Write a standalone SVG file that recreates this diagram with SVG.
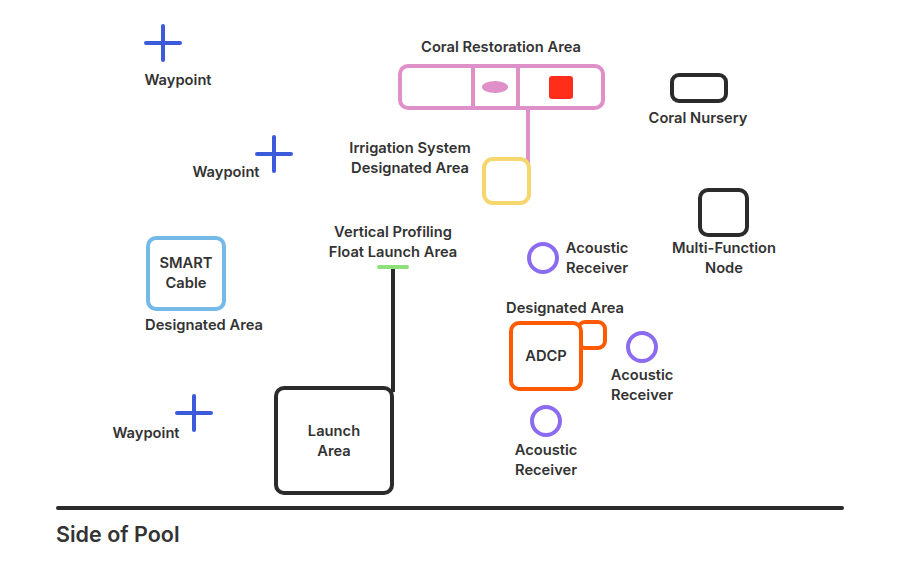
<svg xmlns="http://www.w3.org/2000/svg" width="900" height="562" viewBox="0 0 900 562">
<style>
text{font-family:Inter,"Liberation Sans",sans-serif;font-weight:600;font-size:14.7px;fill:#333;text-anchor:middle}
.wp{stroke:#3b5bdb;stroke-width:4;stroke-linecap:round;fill:none}
.ar{stroke:#8b6cf0;stroke-width:4;fill:#fff}
.blk{stroke:#2b2b2b;stroke-width:4;fill:#fff}
</style>
<rect width="900" height="562" fill="#fff"/>
<g id="connectors">
<line x1="528" y1="108" x2="528" y2="186" stroke="#e090c8" stroke-width="4"/>
<line x1="393" y1="268" x2="393" y2="392" stroke="#2b2b2b" stroke-width="4"/>
</g>
<g id="coral-restoration">
<text x="501" y="52">Coral Restoration Area</text>
<rect x="400" y="66" width="203" height="42" rx="8" fill="#fff" stroke="#e090c8" stroke-width="4"/>
<line x1="473" y1="66" x2="473" y2="108" stroke="#e090c8" stroke-width="4"/>
<line x1="518" y1="66" x2="518" y2="108" stroke="#e090c8" stroke-width="4"/>
<ellipse cx="495" cy="87" rx="13" ry="6" fill="#e090c8"/>
<rect x="549" y="76" width="24" height="23" rx="3" fill="#ff2d1a"/>
</g>
<g id="irrigation">
<text x="410" y="153">Irrigation System</text>
<text x="410" y="173">Designated Area</text>
<rect x="484" y="159" width="45" height="44" rx="9" fill="#fff" stroke="#f5d76e" stroke-width="4"/>
</g>
<g id="waypoint1">
<path class="wp" d="M163 26V60M146 43H180"/>
<text x="178" y="85">Waypoint</text>
</g>
<g id="waypoint2">
<path class="wp" d="M274 137V171M257 154H291"/>
<text x="226" y="177">Waypoint</text>
</g>
<g id="waypoint3">
<path class="wp" d="M194 396V430M177 413H211"/>
<text x="146" y="438">Waypoint</text>
</g>
<g id="coral-nursery">
<rect x="672" y="75" width="54" height="26" rx="7" class="blk"/>
<text x="698" y="123">Coral Nursery</text>
</g>
<g id="multi-function-node">
<rect x="700" y="190" width="47" height="45" rx="8" class="blk"/>
<text x="724" y="253">Multi-Function</text>
<text x="724" y="273">Node</text>
</g>
<g id="smart-cable">
<rect x="148" y="238" width="76" height="71" rx="8" fill="#fff" stroke="#74b9e8" stroke-width="4"/>
<text x="186" y="268">SMART</text>
<text x="186" y="288">Cable</text>
<text x="204" y="330">Designated Area</text>
</g>
<g id="float-launch">
<text x="393" y="237">Vertical Profiling</text>
<text x="393" y="257">Float Launch Area</text>
<line x1="379" y1="267" x2="407" y2="267" stroke="#8ee07a" stroke-width="4" stroke-linecap="round"/>
</g>
<g id="launch-area">
<rect x="276" y="388" width="116" height="105" rx="8" class="blk"/>
<text x="334" y="436">Launch</text>
<text x="334" y="456">Area</text>
</g>
<g id="acoustic-receiver-1">
<circle cx="543" cy="258" r="14" class="ar"/>
<text x="597" y="253">Acoustic</text>
<text x="597" y="273">Receiver</text>
</g>
<g id="adcp">
<text x="565" y="313">Designated Area</text>
<rect x="578" y="322" width="27" height="26" rx="7" fill="#fff" stroke="#ff5a00" stroke-width="4"/>
<rect x="511" y="323" width="70" height="66" rx="8" fill="#fff" stroke="#ff5a00" stroke-width="4"/>
<text x="546" y="361">ADCP</text>
</g>
<g id="acoustic-receiver-2">
<circle cx="642" cy="347" r="14" class="ar"/>
<text x="642" y="380">Acoustic</text>
<text x="642" y="400">Receiver</text>
</g>
<g id="acoustic-receiver-3">
<circle cx="546" cy="421" r="14" class="ar"/>
<text x="546" y="455">Acoustic</text>
<text x="546" y="475">Receiver</text>
</g>
<g id="pool-side">
<line x1="58" y1="508" x2="842" y2="508" stroke="#2b2b2b" stroke-width="4" stroke-linecap="round"/>
<text x="56" y="542" style="font-size:21.5px;text-anchor:start">Side of Pool</text>
</g>
</svg>
